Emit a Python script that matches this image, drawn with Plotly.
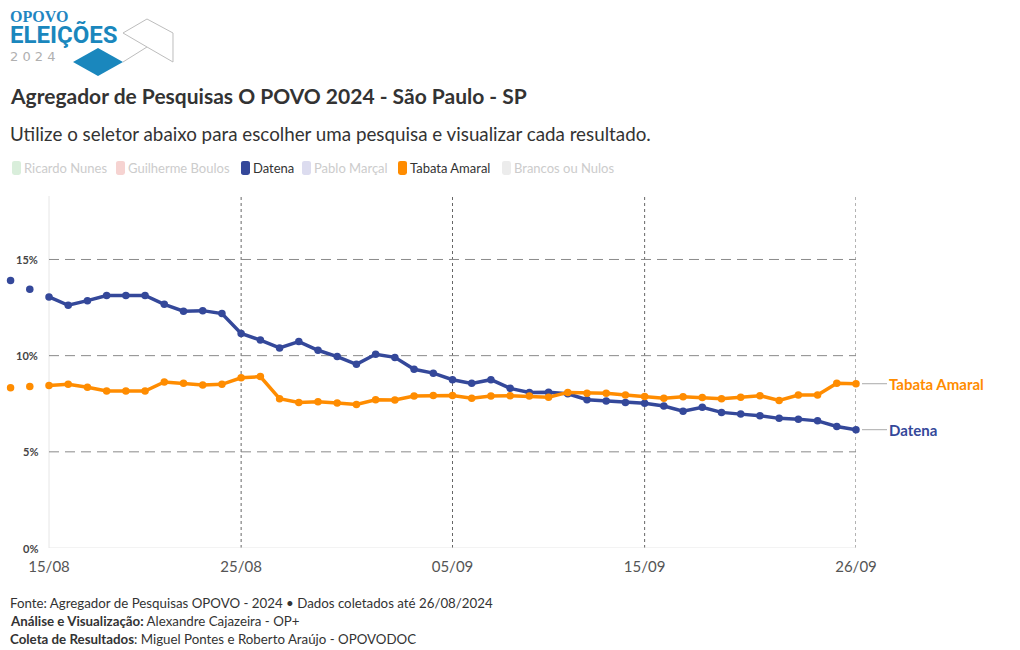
import plotly.graph_objects as go
import pandas as pd

# ---------------- data ----------------
dates = [
    "2024-08-13", "2024-08-14", "2024-08-15", "2024-08-16", "2024-08-17", "2024-08-18",
    "2024-08-19", "2024-08-20", "2024-08-21", "2024-08-22", "2024-08-23", "2024-08-24",
    "2024-08-25", "2024-08-26", "2024-08-27", "2024-08-28", "2024-08-29", "2024-08-30",
    "2024-08-31", "2024-09-01", "2024-09-02", "2024-09-03", "2024-09-04", "2024-09-05",
    "2024-09-06", "2024-09-07", "2024-09-08", "2024-09-09", "2024-09-10", "2024-09-11",
    "2024-09-12", "2024-09-13", "2024-09-14", "2024-09-15", "2024-09-16", "2024-09-17",
    "2024-09-18", "2024-09-19", "2024-09-20", "2024-09-21", "2024-09-22", "2024-09-23",
    "2024-09-24", "2024-09-25", "2024-09-26",
]
datena = [
    13.91, 13.45, 13.05, 12.62, 12.86, 13.13, 13.13, 13.13, 12.67, 12.31, 12.34, 12.19,
    11.15, 10.81, 10.40, 10.73, 10.28, 9.95, 9.55, 10.07, 9.91, 9.29, 9.09, 8.75,
    8.56, 8.75, 8.30, 8.09, 8.10, 8.02, 7.71, 7.64, 7.57, 7.53, 7.38, 7.11,
    7.32, 7.05, 6.96, 6.88, 6.74, 6.70, 6.61, 6.32, 6.15,
]
tabata = [
    8.33, 8.40, 8.45, 8.51, 8.36, 8.16, 8.16, 8.16, 8.63, 8.57, 8.47, 8.51,
    8.85, 8.91, 7.76, 7.57, 7.60, 7.54, 7.46, 7.71, 7.69, 7.90, 7.93, 7.93,
    7.79, 7.90, 7.92, 7.90, 7.84, 8.09, 8.05, 8.05, 7.95, 7.88, 7.79, 7.86,
    7.83, 7.76, 7.84, 7.92, 7.67, 7.95, 7.95, 8.57, 8.54,
]
tick_vals = ["2024-08-15", "2024-08-25", "2024-09-05", "2024-09-15", "2024-09-26"]
tick_text = ["15/08", "25/08", "05/09", "15/09", "26/09"]
y_ticks = [0, 5, 10, 15]
y_tick_text = ["0%", "5%", "10%", "15%"]
legend_names = ["Ricardo Nunes", "Guilherme Boulos", "Datena", "Pablo Marçal",
                "Tabata Amaral", "Brancos ou Nulos"]
legend_colors = ["#d9eedb", "#f6d3d1", "#34489a", "#dcdcef", "#ff8c00", "#ececec"]
legend_active = [False, False, True, False, True, False]

BLUE = "#34489a"
ORANGE = "#ff8c00"
FONT = "Lato"

# ---------------- layout geometry (pixels) ----------------
W, H = 1020, 650
L0, R, T, B = 5, 856, 196, 548      # plot area edges
X_AXIS_PX = 49                      # pixel where the first tick (15/08) sits
first = pd.Timestamp(tick_vals[0])
last = pd.Timestamp(tick_vals[-1])
px_per_day = (R - X_AXIS_PX) / ((last - first).days)
x_start = first - pd.Timedelta(days=(X_AXIS_PX - L0) / px_per_day)


def px(x):
    return (x - L0) / (R - L0)


def py(y):
    return (B - y) / (B - T)


fig = go.Figure()

n_pre = 2  # polls before the first tick: drawn as markers only
for name, vals, col in [("Datena", datena, BLUE), ("Tabata Amaral", tabata, ORANGE)]:
    fig.add_trace(go.Scatter(
        x=dates[:n_pre], y=vals[:n_pre], name=name, mode="markers",
        marker=dict(color=col, size=7.5), cliponaxis=False, showlegend=False,
        hovertemplate="%{x|%d/%m}: %{y:.1f}%<extra>" + name + "</extra>",
    ))
    fig.add_trace(go.Scatter(
        x=dates[n_pre:], y=vals[n_pre:], name=name, mode="lines+markers",
        line=dict(color=col, width=3.5),
        marker=dict(color=col, size=7.5),
        cliponaxis=False, showlegend=False,
        hovertemplate="%{x|%d/%m}: %{y:.1f}%<extra>" + name + "</extra>",
    ))

# end labels
for name, vals, col in [("Tabata Amaral", tabata, ORANGE), ("Datena", datena, BLUE)]:
    fig.add_annotation(
        x=dates[-1], y=vals[-1], xref="x", yref="y",
        text="<b>" + name + "</b>", showarrow=True, arrowhead=0,
        arrowwidth=1, arrowcolor="#aaaaaa", ax=31, ay=0, standoff=6,
        xanchor="left", font=dict(family=FONT, size=15, color=col),
    )

shapes = []
annotations = []

# ---------- grid (as shapes, starting at the first tick) ----------
for v in y_ticks[1:]:
    shapes.append(dict(type="line", xref="x", yref="y", x0=tick_vals[0], x1=tick_vals[-1],
                       y0=v, y1=v, layer="below",
                       line=dict(color="#8a8a8a", width=1, dash="10px,6px")))
shapes.append(dict(type="line", xref="x", yref="y", x0=tick_vals[0], x1=tick_vals[-1],
                   y0=0, y1=0, layer="below", line=dict(color="#e6e6e6", width=1)))
shapes.append(dict(type="line", xref="x", yref="paper", x0=tick_vals[0], x1=tick_vals[0],
                   y0=0, y1=1, layer="below", line=dict(color="#e6e6e6", width=1)))
for tv in tick_vals[1:]:
    shapes.append(dict(type="line", xref="x", yref="paper", x0=tv, x1=tv,
                       y0=0, y1=1, layer="below",
                       line=dict(color="#666666", width=1, dash="3px,3px")))

# y tick labels
for v, t in zip(y_ticks, y_tick_text):
    annotations.append(dict(x=px(40), y=v, xref="paper", yref="y", text="<b>" + t + "</b>",
                            showarrow=False, xanchor="right", yanchor="middle",
                            font=dict(family=FONT, size=11, color="#444444")))

# ---------- logo ----------
annotations.append(dict(
    x=px(8), y=py(28), xref="paper", yref="paper",
    text=('<span style="font-family:Liberation Serif;font-size:16px;color:#1f86c2"><b>OPOVO</b></span>'
          '<br><span style="font-family:Roboto;font-size:24px;color:#1a87bd"><b>ELEIÇÕES</b></span>'),
    showarrow=False, xanchor="left", yanchor="middle", align="left",
    font=dict(family="Roboto", size=16.5, color="#1a87bd")))
annotations.append(dict(x=px(8), y=py(56), xref="paper", yref="paper",
                        text="2 0 2 4", showarrow=False, xanchor="left", yanchor="middle",
                        font=dict(family="DejaVu Sans", size=13, color="#b0b0b0")))


def path_px(points, close=True):
    s = "M " + " L ".join(f"{px(a):.5f},{py(b):.5f}" for a, b in points)
    return s + (" Z" if close else "")


def rounded_rect(x0, y0, x1, y1, r):
    return (f"M {px(x0 + r):.5f},{py(y0):.5f} L {px(x1 - r):.5f},{py(y0):.5f} "
            f"Q {px(x1):.5f},{py(y0):.5f} {px(x1):.5f},{py(y0 + r):.5f} "
            f"L {px(x1):.5f},{py(y1 - r):.5f} "
            f"Q {px(x1):.5f},{py(y1):.5f} {px(x1 - r):.5f},{py(y1):.5f} "
            f"L {px(x0 + r):.5f},{py(y1):.5f} "
            f"Q {px(x0):.5f},{py(y1):.5f} {px(x0):.5f},{py(y1 - r):.5f} "
            f"L {px(x0):.5f},{py(y0 + r):.5f} "
            f"Q {px(x0):.5f},{py(y0):.5f} {px(x0 + r):.5f},{py(y0):.5f} Z")


shapes.append(dict(type="path", xref="paper", yref="paper",
                   path=path_px([(73, 62), (98, 48), (123, 62), (98, 76)]),
                   fillcolor="#1a87bd", line=dict(width=0)))
shapes.append(dict(type="path", xref="paper", yref="paper",
                   path=path_px([(123, 62), (147, 47), (123, 33), (147, 19), (173, 33),
                                 (173, 62)], close=False),
                   line=dict(color="#bdbdbd", width=1)))
shapes.append(dict(type="path", xref="paper", yref="paper",
                   path=path_px([(147, 47), (173, 62)], close=False),
                   line=dict(color="#bdbdbd", width=1)))

# ---------- title / subtitle ----------
annotations.append(dict(x=px(8), y=py(95), xref="paper", yref="paper",
                        text="<b>Agregador de Pesquisas O POVO 2024 - São Paulo - SP</b>",
                        showarrow=False, xanchor="left", yanchor="middle",
                        font=dict(family=FONT, size=21, color="#333333")))
annotations.append(dict(x=px(8), y=py(133), xref="paper", yref="paper",
                        text="Utilize o seletor abaixo para escolher uma pesquisa e visualizar cada resultado.",
                        showarrow=False, xanchor="left", yanchor="middle",
                        font=dict(family=FONT, size=18.8, color="#333333")))

# ---------- legend (manual) ----------
leg_sw = [12, 116, 241, 302, 398, 502]
for i, (nm, col, act) in enumerate(zip(legend_names, legend_colors, legend_active)):
    x0 = leg_sw[i]
    shapes.append(dict(type="path", xref="paper", yref="paper",
                       path=rounded_rect(x0, 161, x0 + 9, 175, 2.5),
                       fillcolor=col, line=dict(width=0)))
    annotations.append(dict(x=px(x0 + 10), y=py(168), xref="paper", yref="paper",
                            text=nm, showarrow=False, xanchor="left", yanchor="middle",
                            font=dict(family=FONT, size=13,
                                      color="#333333" if act else "#cccccc")))

# ---------- footer ----------
foot = [
    "Fonte: Agregador de Pesquisas OPOVO - 2024 • Dados coletados até 26/08/2024",
    "<b>Análise e Visualização:</b> Alexandre Cajazeira - OP+",
    "<b>Coleta de Resultados</b>: Miguel Pontes e Roberto Araújo - OPOVODOC",
]
for i, t in enumerate(foot):
    annotations.append(dict(x=px(8), y=py(603 + 18 * i), xref="paper", yref="paper",
                            text=t, showarrow=False, xanchor="left", yanchor="middle",
                            font=dict(family=FONT, size=13.3, color="#333333")))

fig.update_layout(
    width=W, height=H,
    margin=dict(l=L0, r=W - R, t=T, b=H - B, pad=0),
    paper_bgcolor="white", plot_bgcolor="white",
    showlegend=False,
    font=dict(family=FONT, color="#555555"),
    shapes=shapes,
)
for a in annotations:
    fig.add_annotation(**a)

fig.update_xaxes(
    type="date", range=[x_start, last],
    tickvals=tick_vals, ticktext=tick_text,
    showgrid=False, zeroline=False, showline=False, ticks="",
    ticklabelstandoff=8,
    tickfont=dict(family=FONT, size=15, color="#555555"),
    fixedrange=True,
)
fig.update_yaxes(
    range=[0, 18.3], showticklabels=False,
    showgrid=False, zeroline=False, showline=False, ticks="",
    fixedrange=True,
)

fig.write_html("out.html", config={"displayModeBar": False},
               post_script="document.body.style.margin='0';")
